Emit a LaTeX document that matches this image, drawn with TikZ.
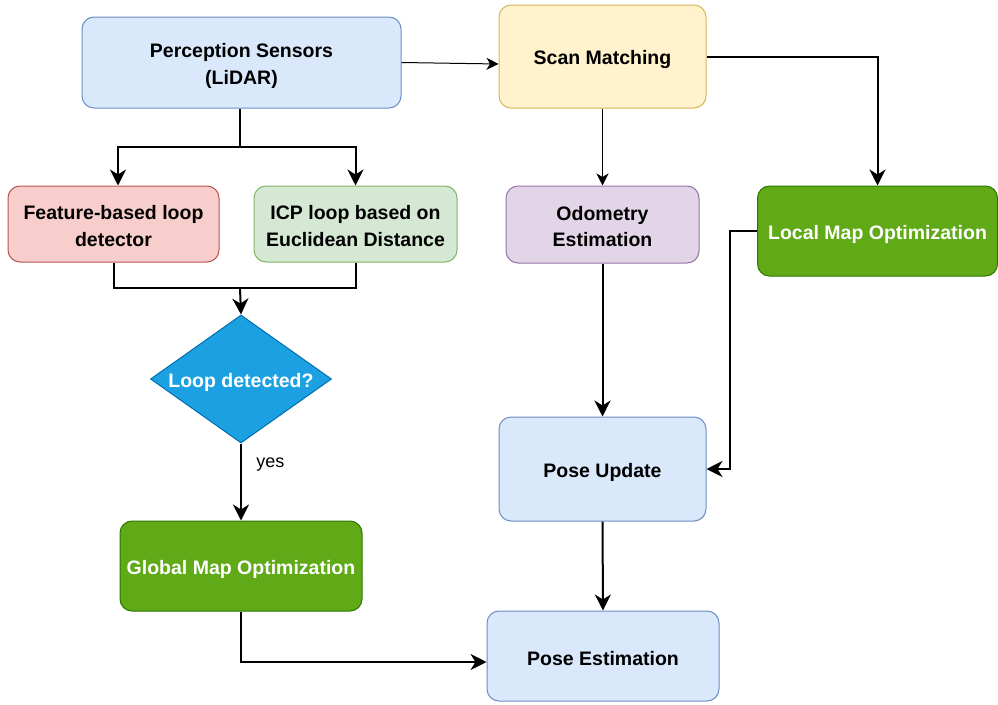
\documentclass[tikz,border=0pt]{standalone}
\usepackage{fontspec}
\setmainfont{Liberation Sans}
\usetikzlibrary{shapes.geometric,arrows.meta,calc}

\definecolor{blueF}{HTML}{DAE8FC}\definecolor{blueD}{HTML}{6C8EBF}
\definecolor{redF}{HTML}{F8CECC}\definecolor{redD}{HTML}{B85450}
\definecolor{greenF}{HTML}{D5E8D4}\definecolor{greenD}{HTML}{82B366}
\definecolor{yellowF}{HTML}{FFF2CC}\definecolor{yellowD}{HTML}{D6B656}
\definecolor{purpleF}{HTML}{E1D5E7}\definecolor{purpleD}{HTML}{9673A6}
\definecolor{dgreenF}{HTML}{60A917}\definecolor{dgreenD}{HTML}{2D7600}
\definecolor{cyanF}{HTML}{1BA1E2}\definecolor{cyanD}{HTML}{006EAF}

% fixed line box so every label sits at the same height in its shape
\newcommand\tstrut{\rule[-3pt]{0pt}{24pt}}

\tikzset{
  box/.style={draw, line width=1pt, rounded corners=12pt, align=center,
    inner sep=0pt, font=\fontsize{19.5}{24}\selectfont\bfseries},
  bluebox/.style={box, fill=blueF, draw=blueD},
  redbox/.style={box, fill=redF, draw=redD},
  greenbox/.style={box, fill=greenF, draw=greenD},
  yellowbox/.style={box, fill=yellowF, draw=yellowD},
  purplebox/.style={box, fill=purpleF, draw=purpleD},
  optbox/.style={box, fill=dgreenF, draw=dgreenD, text=white},
  decision/.style={diamond, draw=cyanD, fill=cyanF, line width=1pt, inner sep=0pt,
    text=white, font=\fontsize{19.5}{24}\selectfont\bfseries},
  flow/.style={line width=2pt, -{Stealth[length=16pt,width=16pt,inset=5pt]}},
  flowthin/.style={line width=1pt, -{Stealth[length=12pt,width=12pt,inset=3.5pt]}},
  plain/.style={line width=2pt},
}

\begin{document}
\begin{tikzpicture}[x=1pt,y=-1pt]
\useasboundingbox (0,0) rectangle (998,704);

% process boxes
\node[bluebox, minimum width=319pt, minimum height=91pt] (per) at (241.5,62.5) {\tstrut Perception Sensors\\\tstrut(LiDAR)};
\node[yellowbox, minimum width=207pt, minimum height=103pt] (scan) at (602.5,56.5) {\tstrut Scan Matching};
\node[redbox, minimum width=211pt, minimum height=76pt] (feat) at (113.5,224) {\tstrut Feature-based loop\\\tstrut detector};
\node[greenbox, minimum width=203pt, minimum height=76pt] (icp) at (355.5,224) {\tstrut ICP loop based on\\\tstrut Euclidean Distance};
\node[purplebox, minimum width=193pt, minimum height=77pt] (odo) at (602.5,224.5) {\tstrut Odometry\\\tstrut Estimation};
\node[optbox, minimum width=240pt, minimum height=90pt] (local) at (877.5,231) {\tstrut Local Map Optimization};
\node[decision, minimum width=181pt, minimum height=128pt, aspect=1.41] (dia) at (241,379) {\tstrut Loop detected?};
\node[optbox, minimum width=242pt, minimum height=90pt] (global) at (241,566) {\tstrut Global Map Optimization};
\node[bluebox, minimum width=207pt, minimum height=104pt] (pupd) at (602.5,469) {\tstrut Pose Update};
\node[bluebox, minimum width=232pt, minimum height=90pt] (pest) at (603,656) {\tstrut Pose Estimation};

% junction points
\coordinate (fork) at (240,147);
\coordinate (join) at (240,288);

% sensors to the two loop detectors
\draw[plain] (per.south -| fork) -- (fork);
\draw[flow] (fork) -| ([xshift=4.5pt]feat.north);
\draw[flow] (fork) -| (icp.north);

% detectors merge into the decision
\draw[plain] (feat.south) |- (join);
\draw[plain] (icp.south) |- (join);
\draw[flow] (join) -- (dia.north);

% decision to global optimisation
\draw[flow] (dia.south) -- node[pos=0.27, right=11pt, font=\fontsize{18}{20}\selectfont] {yes} (global.north);
\draw[flow] (global.south) |- ([yshift=-6pt]pest.west);

% odometry branch
\draw[flowthin] (per.east) -- ([yshift=-7.5pt]scan.west);
\draw[flowthin] (scan.south) -- (odo.north);
\draw[flow] (scan.east) -| (local.north);
\draw[flow] (local.west) -- ++(-27,0) |- (pupd.east);
\draw[flow] (odo.south) -- (pupd.north);
\draw[flow] (pupd.south) -- (pest.north);
\end{tikzpicture}
\end{document}
